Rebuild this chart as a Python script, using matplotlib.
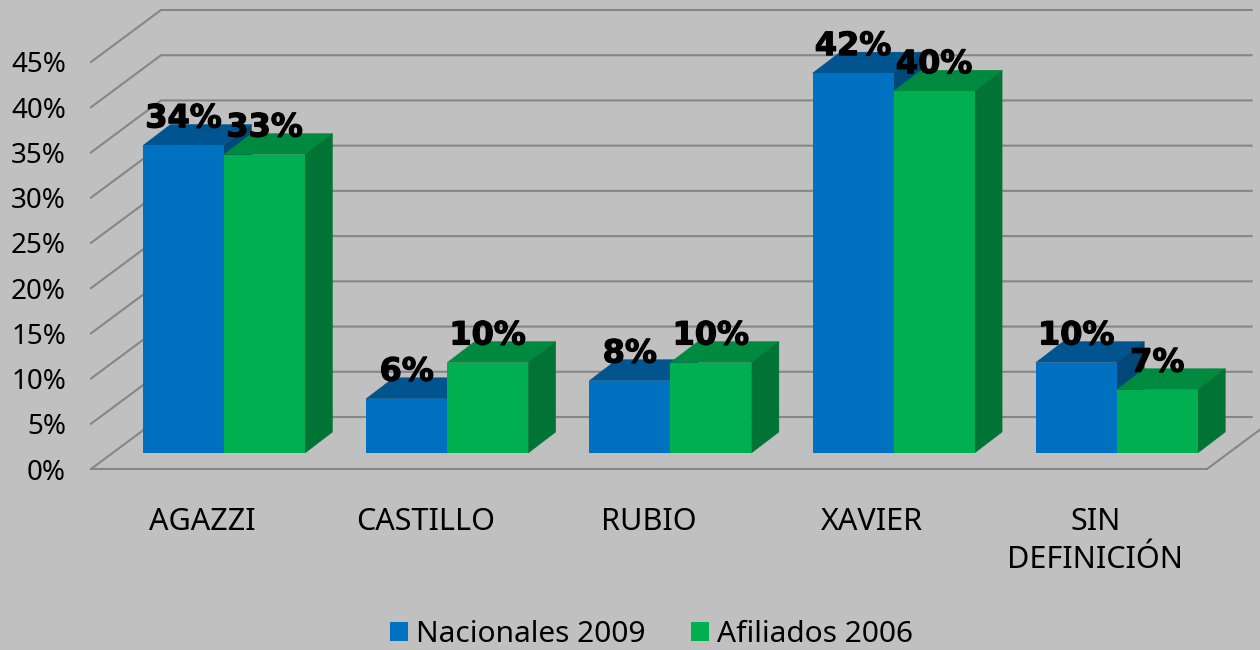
"""Pseudo-3D clustered column chart: Nacionales 2009 vs Afiliados 2006."""

import matplotlib
matplotlib.use("Agg")
import matplotlib.pyplot as plt
import matplotlib.patheffects as pe
from matplotlib.patches import Polygon

plt.rcParams.update({"font.family": ["Noto Sans", "DejaVu Sans"], "figure.dpi": 100})

categories = ["AGAZZI", "CASTILLO", "RUBIO", "XAVIER", "SIN\nDEFINICIÓN"]
nacionales = [34, 6, 8, 42, 10]
afiliados = [33, 10, 10, 40, 7]
y_ticks = [0, 5, 10, 15, 20, 25, 30, 35, 40, 45]

BG = "#c0c0c0"
GRID = "#868686"
# front, top, side
BLUE = ("#0070c0", "#00548f", "#00477a")
GREEN = ("#00b050", "#008a3f", "#007335")

# pixels per data unit, the depth offsets below are measured in pixels
PX_X = 223.2
PX_Y = 9.044
WALL = (70, 52)
PLANE = (21.5, 16)
DEPTH = (27.5, 21)
BAR_W = 0.363


def shift(x, y, off):
    return x + off[0] / PX_X, y + off[1] / PX_Y


def draw_bars(ax, lefts, values, cols, label, z):
    x0, y0 = shift(0, 0, PLANE)
    for l, v in zip(lefts, values):
        xl, xr = l + x0, l + x0 + BAR_W
        top = v + y0
        ax.add_patch(Polygon([(xl, top), (xr, top), shift(xr, top, DEPTH), shift(xl, top, DEPTH)],
                             fc=cols[1], ec=cols[1], lw=0.3, clip_on=False, zorder=z))
        ax.add_patch(Polygon([(xr, y0), (xr, top), shift(xr, top, DEPTH), shift(xr, y0, DEPTH)],
                             fc=cols[2], ec=cols[2], lw=0.3, clip_on=False, zorder=z))
        ax.text((xl + xr) / 2, top + 2.0, f"{v}%", ha="center", va="baseline",
                fontsize=23, fontweight="bold", family="DejaVu Sans", color="black", zorder=5,
                path_effects=[pe.withStroke(linewidth=0.9, foreground="black")])
    ax.bar([l + x0 for l in lefts], values, BAR_W, bottom=y0, align="edge",
           color=cols[0], linewidth=0, clip_on=False, zorder=z + 0.05, label=label)


fig = plt.figure(figsize=(12.6, 6.5), facecolor=BG)
ax = fig.add_axes([91 / 1260, (650 - 469) / 650, (1207 - 91) / 1260, (469 - 62) / 650])
ax.set_facecolor("none")
ax.set_xlim(0, 5)
ax.set_ylim(0, 45)
for s in ax.spines.values():
    s.set_visible(False)

# walls and floor
for v in y_ticks:
    bx, by = shift(0, v, WALL)
    ax.plot([0, bx, 5.2], [v, by, by], color=GRID, lw=1.5, clip_on=False, zorder=1,
            solid_joinstyle="miter")
bx, by = shift(5, 0, WALL)
ax.plot([0, 5, bx], [0, 0, by], color=GRID, lw=1.5, clip_on=False, zorder=1,
        solid_joinstyle="miter")

lefts = [i + 0.1365 for i in range(len(categories))]
draw_bars(ax, lefts, nacionales, BLUE, "Nacionales 2009", 3.0)
draw_bars(ax, [l + BAR_W for l in lefts], afiliados, GREEN, "Afiliados 2006", 3.2)

ax.set_yticks(y_ticks)
ax.set_yticklabels([f"{v}%" for v in y_ticks])
ax.set_xticks([i + 0.5 for i in range(len(categories))])
ax.set_xticklabels(categories, linespacing=1.35)
ax.tick_params(axis="y", length=0, pad=18, labelsize=20, labelcolor="black")
ax.tick_params(axis="x", length=0, pad=27.5, labelsize=22, labelcolor="black")

# kept a little higher than the reference so the text stays inside the canvas
ax.legend(loc="lower center", bbox_to_anchor=(651.5 / 1260, -0.021),
          bbox_transform=fig.transFigure, ncol=2, frameon=False, fontsize=21.5,
          handlelength=0.6, handleheight=0.6, handletextpad=0.27, columnspacing=1.5,
          borderpad=0, labelcolor="black")

fig.savefig("out.png", dpi=100, facecolor=BG)
plt.close(fig)
